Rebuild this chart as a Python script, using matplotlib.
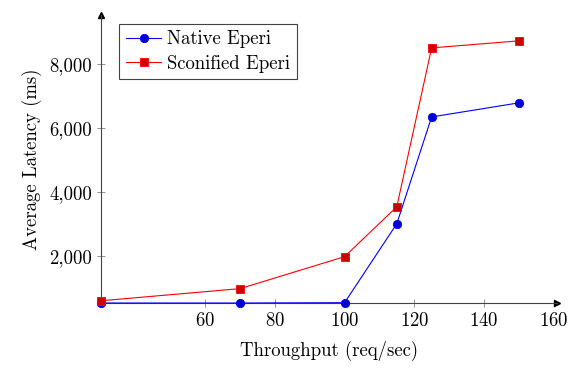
import matplotlib.pyplot as plt
from matplotlib.ticker import FuncFormatter

plt.rcParams['font.family'] = 'cmr10'
plt.rcParams['mathtext.fontset'] = 'cm'
plt.rcParams['axes.formatter.use_mathtext'] = True

# throughput (req/sec) and average latency (ms)
throughput = [30, 70, 100, 115, 125, 150]
native_eperi = [520, 520, 530, 3000, 6340, 6780]
sconified_eperi = [590, 970, 1970, 3530, 8500, 8720]

xticks = [60, 80, 100, 120, 140, 160]
yticks = [2000, 4000, 6000, 8000]

fig = plt.figure(figsize=(5.76, 3.79), dpi=100)
ax = fig.add_axes([0.175, 0.2005, 0.792, 0.76])

ax.plot(throughput, native_eperi, color='#0000ff', lw=0.8, marker='o', ms=6,
        markerfacecolor='#0000cc', markeredgecolor='#0000ff', mew=0.6,
        label='Native Eperi', clip_on=False, zorder=3)
ax.plot(throughput, sconified_eperi, color='#ff0000', lw=0.8, marker='s', ms=6,
        markerfacecolor='#cc0000', markeredgecolor='#ff0000', mew=0.6,
        label='Sconified Eperi', clip_on=False, zorder=3)

ax.set_xlim(30, 161)
ax.set_ylim(min(native_eperi), 9530)
ax.set_xticks(xticks)
ax.set_yticks(yticks)
ax.yaxis.set_major_formatter(FuncFormatter(lambda v, p: f'{int(v):,}'))

for s in ['top', 'right']:
    ax.spines[s].set_visible(False)
for s in ['left', 'bottom']:
    ax.spines[s].set_linewidth(0.8)
    ax.spines[s].set_color('#444444')
ax.tick_params(direction='inout', length=6, width=0.5, color='#666666', labelsize=13.5)

# arrow heads on the axis lines
ax.plot(1, 0, '>', color='black', ms=5, transform=ax.transAxes, clip_on=False)
ax.plot(0, 1, '^', color='black', ms=5, transform=ax.transAxes, clip_on=False)

ax.set_xlabel('Throughput (req/sec)', fontsize=13.5, labelpad=8)
ax.set_ylabel('Average Latency (ms)', fontsize=13.5, labelpad=5)

leg = ax.legend(loc='upper left', bbox_to_anchor=(0.02, 1.002), fontsize=13.5,
                fancybox=False, framealpha=1, edgecolor='#444444',
                borderpad=0.35, labelspacing=0.35, handlelength=1.9, handletextpad=0.3)
leg.get_frame().set_linewidth(0.8)

plt.savefig('out.png', dpi=100)
